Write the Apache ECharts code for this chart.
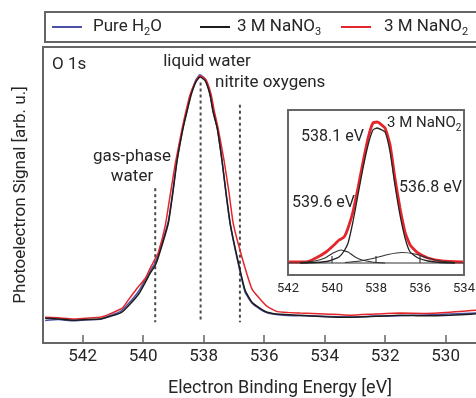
<!DOCTYPE html>
<html>
<head>
<meta charset="utf-8">
<script src="https://cdn.jsdelivr.net/npm/echarts@6/dist/echarts.min.js"></script>
<style>
  html, body { margin: 0; padding: 0; background: #fff; }
  #chart { width: 476px; height: 398px; }
</style>
</head>
<body>
<div id="chart"></div>
<script>
// ---------- data (binding energy [eV], signal [arb. u.]) ----------
const pureH2O = [
  [543.24, 7.6], [542.8, 7.9], [542.31, 7.5], [541.9, 7.8], [541.42, 8.0], [541.19, 8.9],
  [540.76, 10.6], [540.53, 12.8], [540.13, 17.8], [539.77, 24.2], [539.60, 27.2],
  [539.50, 29.8], [539.17, 41.0], [539.01, 51.8], [538.88, 61.8], [538.68, 73.0],
  [538.55, 78.6], [538.41, 84.4], [538.25, 89.0], [538.12, 90.6], [537.95, 89.2],
  [537.79, 84.2], [537.69, 78.5], [537.55, 72.8], [537.39, 61.6], [537.26, 50.6],
  [537.12, 40.0], [536.89, 28.4], [536.63, 17.2], [536.40, 13.4], [536.13, 11.4],
  [535.90, 10.2], [535.47, 9.5], [534.81, 9.2], [534.0, 9.0], [533.16, 8.8], [532.3, 9.1],
  [531.50, 9.2], [530.7, 9.5], [529.85, 9.8], [528.5, 10.3], [527.6, 10.4]
];
const naNO3 = [
  [543.24, 8.4], [542.8, 8.1], [542.31, 7.7], [541.9, 7.9], [541.42, 8.1], [541.19, 8.7],
  [540.76, 10.1], [540.53, 12.1], [540.13, 16.8], [539.77, 23.5], [539.60, 26.2],
  [539.50, 28.9], [539.17, 40.3], [539.01, 51.3], [538.88, 61.4], [538.68, 72.5],
  [538.55, 78.2], [538.41, 83.9], [538.25, 88.3], [538.12, 89.9], [537.95, 88.6],
  [537.79, 83.9], [537.69, 78.2], [537.55, 72.5], [537.39, 61.4], [537.26, 50.7],
  [537.12, 40.3], [536.89, 28.9], [536.63, 17.8], [536.40, 13.8], [536.13, 11.7],
  [535.90, 10.4], [535.47, 9.7], [534.81, 9.4], [534.0, 8.9], [533.16, 8.7], [532.3, 9.0],
  [531.50, 9.4], [530.7, 9.2], [529.85, 9.4], [528.5, 10.1], [527.6, 10.2]
];
const naNO2 = [
  [543.24, 8.7], [542.8, 8.5], [542.31, 8.1], [541.9, 8.4], [541.42, 8.7], [541.19, 9.4],
  [540.76, 11.4], [540.66, 12.1], [540.50, 14.4], [540.23, 18.1], [539.93, 21.8],
  [539.77, 25.2], [539.60, 28.5], [539.50, 30.5], [539.27, 39.6], [539.11, 49.7],
  [538.94, 60.4], [538.71, 72.5], [538.58, 78.5], [538.45, 83.9], [538.25, 88.6],
  [538.12, 90.3], [537.92, 88.9], [537.75, 83.9], [537.65, 78.5], [537.52, 72.5],
  [537.32, 61.4], [537.16, 50.7], [537.02, 40.3], [536.73, 28.9], [536.40, 18.2],
  [536.13, 14.8], [535.90, 12.4], [535.57, 10.6], [534.81, 10.1], [534.0, 9.8],
  [533.16, 9.4], [532.3, 9.8], [531.50, 10.1], [530.7, 10.0], [529.85, 10.4], [528.5, 11.4], [527.6, 11.5]
];
// dashed marker lines: [energy, yTop, yBottom]
const gasPhaseLine = [539.6, 52.3, 7.0];
const liquidLine   = [538.1, 88.0, 7.0];
const nitriteLine  = [536.8, 80.5, 7.0];

// inset: 3 M NaNO2 spectrum and fit components
const insetNaNO2 = [
  [541.95, 1], [541.18, 1], [540.73, 5], [540.27, 11], [539.91, 18], [539.68, 23],
  [539.45, 26], [539.27, 35], [539.05, 51], [538.82, 75], [538.59, 101], [538.36, 125],
  [538.14, 140], [537.95, 141], [537.59, 135], [537.36, 118], [537.14, 85], [536.91, 55],
  [536.68, 31], [536.45, 18], [536.09, 10], [535.64, 5], [535.00, 2], [534.05, 1]
];
const compMain = [
  [541.45, 0], [540.73, 0.5], [540.14, 2], [539.68, 6], [539.45, 12], [539.27, 20],
  [539.05, 41], [538.82, 68], [538.59, 95], [538.36, 118], [538.14, 133], [537.95, 135],
  [537.59, 131], [537.36, 111], [537.14, 78], [536.91, 48], [536.68, 25], [536.45, 11],
  [536.09, 5], [535.64, 2], [535.09, 0.5], [534.41, 0]
];
const compGas = [
  [541.45, 0.5], [540.77, 2], [540.32, 5], [539.95, 10], [539.59, 13], [539.27, 11],
  [538.95, 6], [538.64, 3], [538.18, 1], [537.59, 0]
];
const compNitrite = [
  [539.41, 0.5], [538.73, 2], [538.05, 5], [537.45, 8.5], [536.82, 10.5], [536.23, 9],
  [535.64, 5], [535.09, 2], [534.41, 0.5]
];
const insetBaseline = [[542, 0], [534, 0]];

const mainTicks = [542, 540, 538, 536, 534, 532, 530];
const insetTickLabels = [542, 540, 538, 536, 534];
const insetTickMarks = [540, 538, 536];

// ---------- chart ----------
const FONT = 'Roboto';
const TXT = '#262626';
const FRAME = '#666';
const chart = echarts.init(document.getElementById('chart'));

function vline(v) { return [[v[0], v[1]], [v[0], v[2]]]; }
function lineSeries(name, data, color, width, xi, extra) {
  return Object.assign({
    name: name, type: 'line', data: data, xAxisIndex: xi, yAxisIndex: xi,
    symbol: 'none', smooth: 0.15, silent: true, animation: false,
    lineStyle: { color: color, width: width }, itemStyle: { color: color }
  }, extra || {});
}
const subRich = { sub: { fontSize: 11, fontFamily: FONT, color: TXT, verticalAlign: 'bottom', lineHeight: 11 } };
const legendNames = { 'Pure H2O': 'Pure H{sub|2}O', '3 M NaNO3': '3 M NaNO{sub|3}', '3 M NaNO2': '3 M NaNO{sub|2}' };
function legendAt(name, left, pad) {
  return {
    data: [name], left: left, top: 16, padding: 0, itemWidth: 30, itemHeight: 2, icon: 'rect',
    selectedMode: false,
    formatter: n => legendNames[n],
    textStyle: { fontSize: 17, fontFamily: FONT, color: TXT, lineHeight: 22, padding: [0, 0, 0, pad], rich: subRich }
  };
}
const dash = { color: '#4a4a4a', width: 2, type: [3, 3] };

const option = {
  backgroundColor: '#fff',
  animation: false,
  legend: [legendAt('Pure H2O', 52, 6), legendAt('3 M NaNO3', 200, 2), legendAt('3 M NaNO2', 341, 8)],
  grid: [
    { left: 43, top: 47, right: -41, bottom: 55, show: true, borderColor: FRAME, borderWidth: 2, backgroundColor: '#fff', containLabel: false, outerBoundsMode: 'none' },
    { left: 288, top: 110, right: 12, bottom: 123, show: true, borderColor: FRAME, borderWidth: 2, backgroundColor: '#fff', z: 5, containLabel: false, outerBoundsMode: 'none' }
  ],
  xAxis: [
    {
      type: 'value', gridIndex: 0, min: 527.64, max: 543.31, inverse: true,
      name: 'Electron Binding Energy [eV]', nameLocation: 'middle', nameGap: 36,
      nameTextStyle: { fontSize: 18, fontFamily: FONT, color: TXT },
      axisLine: { show: false }, splitLine: { show: false },
      axisTick: { show: true, inside: true, length: 8, customValues: mainTicks, lineStyle: { color: FRAME, width: 1.5 } },
      axisLabel: { customValues: mainTicks, fontSize: 17, fontFamily: FONT, color: TXT, margin: 5 }
    },
    {
      type: 'value', gridIndex: 1, min: 534, max: 542, inverse: true, z: 5,
      axisLine: { show: false }, splitLine: { show: false },
      axisTick: { show: true, inside: true, length: 7, customValues: insetTickMarks, lineStyle: { color: FRAME, width: 1.5 } },
      axisLabel: { customValues: insetTickLabels, fontSize: 13, fontFamily: FONT, color: TXT, margin: 7 }
    }
  ],
  yAxis: [
    {
      type: 'value', gridIndex: 0, min: 0, max: 100,
      name: 'Photoelectron Signal [arb. u.]', nameLocation: 'middle', nameGap: 14, nameRotate: 90,
      nameTextStyle: { fontSize: 17, fontFamily: FONT, color: TXT },
      axisLine: { show: false }, axisTick: { show: false }, axisLabel: { show: false }, splitLine: { show: false }
    },
    {
      type: 'value', gridIndex: 1, min: -12, max: 153, z: 5,
      axisLine: { show: false }, axisTick: { show: false }, axisLabel: { show: false }, splitLine: { show: false }
    }
  ],
  series: [
    lineSeries('gas', vline(gasPhaseLine), '#555', 2, 0, { smooth: false, lineStyle: dash }),
    lineSeries('liquid', vline(liquidLine), '#555', 2, 0, { smooth: false, lineStyle: dash }),
    lineSeries('nitrite', vline(nitriteLine), '#555', 2, 0, { smooth: false, lineStyle: dash }),
    lineSeries('Pure H2O', pureH2O, '#4d4fa6', 1.5, 0),
    lineSeries('3 M NaNO2', naNO2, '#e3262b', 1.5, 0),
    lineSeries('3 M NaNO3', naNO3, '#1c1c1c', 1.5, 0),
    lineSeries('inset NaNO2', insetNaNO2, '#e3262b', 2.8, 1, { z: 6 }),
    lineSeries('baseline', insetBaseline, '#333', 1.2, 1, { smooth: false, z: 6 }),
    lineSeries('comp gas', compGas, '#333', 1.2, 1, { z: 6 }),
    lineSeries('comp nitrite', compNitrite, '#333', 1.2, 1, { z: 6 }),
    lineSeries('comp main', compMain, '#222', 1.3, 1, { z: 6 })
  ],
  graphic: [
    { type: 'rect', shape: { x: 45, y: 12, width: 470, height: 30 }, style: { fill: 'none', stroke: FRAME, lineWidth: 2 }, z: 10 },
    { type: 'text', x: 52, y: 65, style: { text: 'O 1s', fontSize: 17, fontFamily: FONT, fill: TXT, verticalAlign: 'middle' }, z: 10 },
    { type: 'text', x: 207, y: 62, style: { text: 'liquid water', fontSize: 17, fontFamily: FONT, fill: TXT, align: 'center', verticalAlign: 'middle' }, z: 10 },
    { type: 'text', x: 215, y: 83, style: { text: 'nitrite oxygens', fontSize: 17, fontFamily: FONT, fill: TXT, verticalAlign: 'middle' }, z: 10 },
    { type: 'text', x: 132, y: 157, style: { text: 'gas-phase', fontSize: 17, fontFamily: FONT, fill: TXT, align: 'center', verticalAlign: 'middle' }, z: 10 },
    { type: 'text', x: 132, y: 177, style: { text: 'water', fontSize: 17, fontFamily: FONT, fill: TXT, align: 'center', verticalAlign: 'middle' }, z: 10 },
    { type: 'text', x: 387, y: 123, style: { text: '3 M NaNO{sub|2}', rich: { sub: { fontSize: 10, fontFamily: FONT, fill: TXT, verticalAlign: 'bottom', lineHeight: 10 } }, fontSize: 15, lineHeight: 20, fontFamily: FONT, fill: TXT, verticalAlign: 'middle' }, z: 10 },
    { type: 'text', x: 301, y: 137, style: { text: '538.1 eV', fontSize: 16, fontFamily: FONT, fill: TXT, verticalAlign: 'middle' }, z: 10 },
    { type: 'text', x: 399, y: 188, style: { text: '536.8 eV', fontSize: 16, fontFamily: FONT, fill: TXT, verticalAlign: 'middle' }, z: 10 },
    { type: 'text', x: 292, y: 203, style: { text: '539.6 eV', fontSize: 16, fontFamily: FONT, fill: TXT, verticalAlign: 'middle' }, z: 10 }
  ]
};
chart.setOption(option);
</script>
</body>
</html>
